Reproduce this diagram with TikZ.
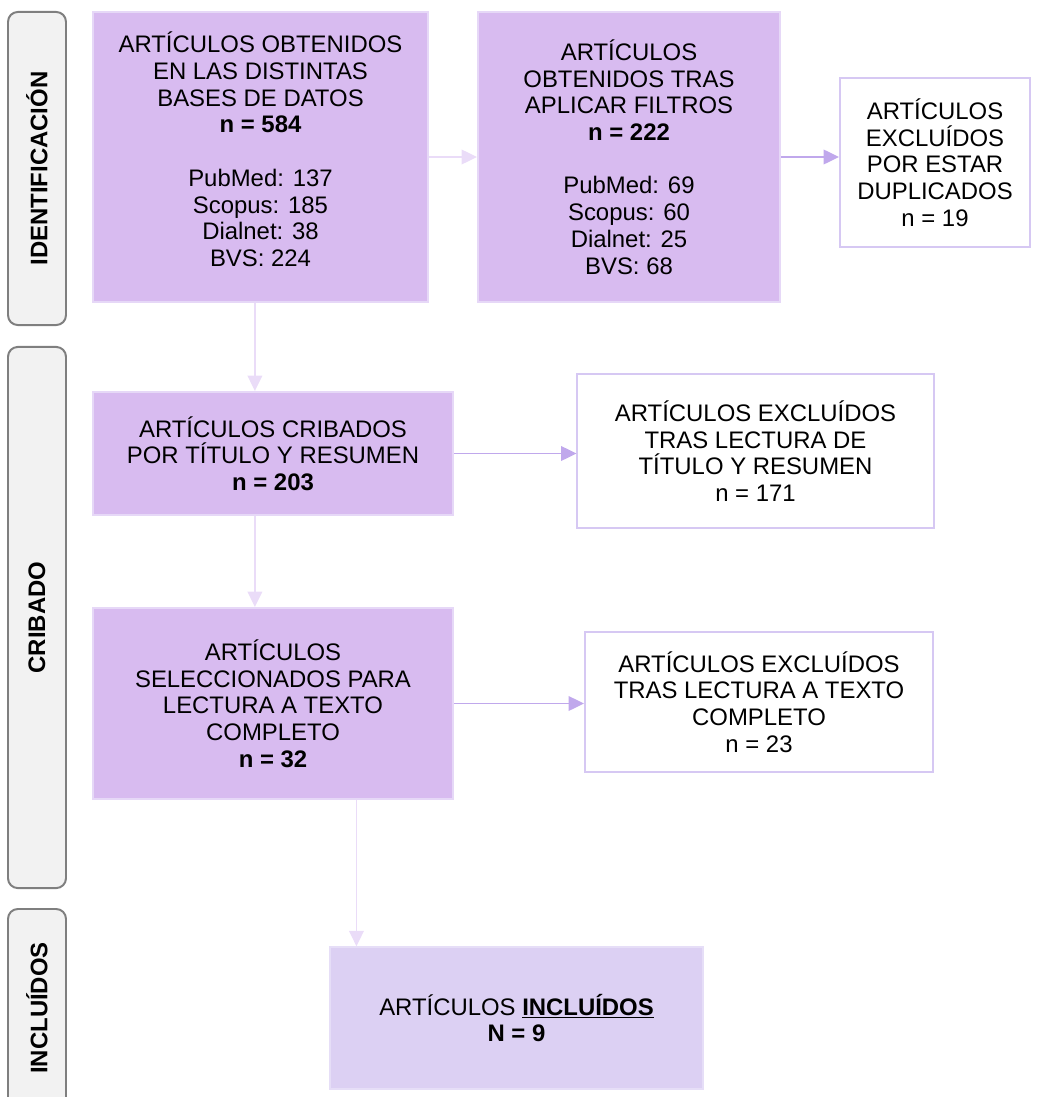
\documentclass[tikz,border=0pt]{standalone}
\usepackage{fontspec}
\setmainfont{Liberation Sans}
\usetikzlibrary{arrows.meta,positioning}

\definecolor{stepfill}{RGB}{216,187,240}
\definecolor{stepline}{RGB}{230,216,247}
\definecolor{finalfill}{RGB}{220,208,243}
\definecolor{exclline}{RGB}{214,200,243}
\definecolor{flowlight}{RGB}{234,220,248}
\definecolor{flowdark}{RGB}{192,168,236}
\definecolor{phasefill}{RGB}{242,242,242}
\definecolor{phaseline}{RGB}{127,127,127}

\begin{document}
\begin{tikzpicture}[
  x=0.025cm, y=-0.025cm,
  font=\fontsize{17}{19}\selectfont,
  phase/.style={draw=phaseline, line width=1.4pt, fill=phasefill, rounded corners=7pt, rotate=90, minimum height=1.45cm, inner sep=0pt, font=\fontsize{17}{19}\selectfont\bfseries},
  stepbox/.style={draw=stepline, line width=1.4pt, fill=stepfill, align=center, inner sep=2pt},
  exclbox/.style={draw=exclline, line width=1.4pt, fill=white, align=center, inner sep=2pt},
  finalbox/.style={draw=finalfill!70!white, line width=1pt, fill=finalfill, align=center, inner sep=2pt},
  flow/.style={-{Triangle[length=11pt, width=10.5pt]}, line width=1.1pt, draw=flowlight},
  flowout/.style={flow, draw=flowdark}
]
\useasboundingbox (0,0) rectangle (1039,1097);
\clip (0,0) rectangle (1039,1097);

% phases
\node[phase, minimum width=7.825cm] (ident) at (37,168.5) {IDENTIFICACIÓN};
\node[phase, minimum width=13.525cm] (cribado) at (37,617.5) {CRIBADO};
\node[phase, minimum width=4.95cm] (incl) at (37,1008) {INCLUÍDOS};

% identification
\node[stepbox, minimum width=8.375cm, minimum height=7.25cm] (obtained) at (260.5,157)
  {ARTÍCULOS OBTENIDOS\\EN LAS DISTINTAS\\BASES DE DATOS\\\textbf{n = 584}\\[19pt]PubMed: 137\\Scopus: 185\\Dialnet: 38\\BVS: 224\\[-8pt]~};
\node[stepbox, minimum width=7.55cm, minimum height=7.25cm] (filtered) at (629,157)
  {ARTÍCULOS\\OBTENIDOS TRAS\\APLICAR FILTROS\\\textbf{n = 222}\\[19pt]PubMed: 69\\Scopus: 60\\Dialnet: 25\\BVS: 68};
\node[exclbox, minimum width=4.75cm, minimum height=4.225cm] (dupl) at (935,162.5)
  {ARTÍCULOS\\EXCLUÍDOS\\POR ESTAR\\DUPLICADOS\\n = 19};

% screening
\node[stepbox, minimum width=9cm, minimum height=3.075cm] (screened) at (273,453.5)
  {ARTÍCULOS CRIBADOS\\POR TÍTULO Y RESUMEN\\\textbf{n = 203}};
\node[exclbox, minimum width=8.9cm, minimum height=3.85cm] (exclabs) at (755.5,451)
  {ARTÍCULOS EXCLUÍDOS\\TRAS LECTURA DE\\TÍTULO Y RESUMEN\\n = 171};
\node[stepbox, minimum width=9cm, minimum height=4.775cm] (fulltext) at (273,703.5)
  {ARTÍCULOS\\SELECCIONADOS PARA\\LECTURA A TEXTO\\COMPLETO\\\textbf{n = 32}};
\node[exclbox, minimum width=8.7cm, minimum height=3.5cm] (exclfull) at (759,702)
  {ARTÍCULOS EXCLUÍDOS\\TRAS LECTURA A TEXTO\\COMPLETO\\n = 23};

% included
\node[finalbox, minimum width=9.325cm, minimum height=3.55cm] (included) at (516.5,1018)
  {ARTÍCULOS \underline{\textbf{INCLUÍDOS}}\\\textbf{N = 9}};

\draw[flow] (obtained) -- (filtered);
\draw[flowout] (filtered.east) -- (filtered.east -| dupl.west);
\draw[flow] ([xshift=-0.14cm]obtained.south) -- ([xshift=-0.14cm]obtained.south |- screened.north);
\draw[flowout] (screened) -- (screened -| exclabs.west);
\draw[flow] ([xshift=-0.14cm]obtained.south |- screened.south) -- ([xshift=-0.14cm]obtained.south |- fulltext.north);
\draw[flowout] (fulltext) -- (fulltext -| exclfull.west);
\draw[flow] ([xshift=0.68cm]included.north west |- fulltext.south) -- ([xshift=0.68cm]included.north west);
\end{tikzpicture}
\end{document}
